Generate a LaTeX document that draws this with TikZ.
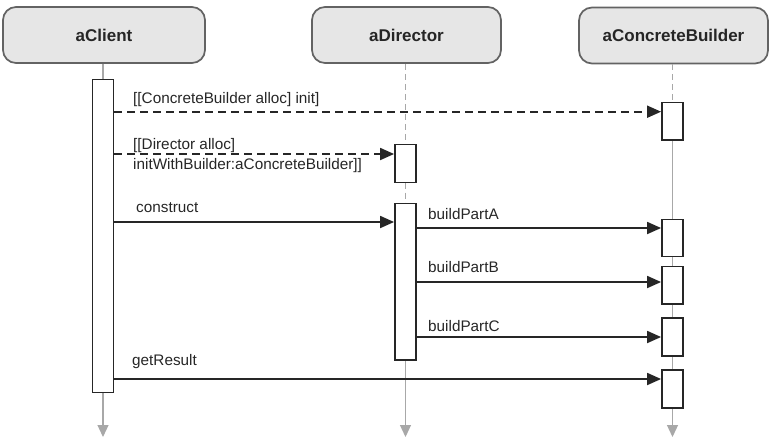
\documentclass[tikz,border=0pt]{standalone}
\usepackage{fontspec}
\setmainfont{Liberation Sans}
\usetikzlibrary{arrows.meta}
\definecolor{hdrfill}{HTML}{E6E6E6}
\definecolor{hdrline}{HTML}{636363}
\definecolor{ink}{HTML}{262626}
\definecolor{life}{HTML}{A8A8A8}
\begin{document}
\begin{tikzpicture}[x=1pt,y=-1pt,
 header/.style={draw=hdrline, fill=hdrfill, line width=1.7pt, rounded corners=13pt, minimum height=56pt, font=\fontsize{17}{20}\selectfont\bfseries, text=ink, inner sep=0pt},
 act/.style={draw=ink, fill=white, line width=1.8pt, minimum width=21pt, inner sep=0pt},
 ghost/.style={minimum width=21pt, inner sep=0pt},
 msg/.style={draw=ink, line width=1.8pt, -{Triangle[length=14pt,width=12pt]}},
 ret/.style={msg, dash pattern=on 8pt off 5pt},
 lbl/.style={font=\fontsize{15.3}{20}\selectfont, text=ink, anchor=west, inner sep=0pt, align=left},
 lifedash/.style={draw=life, line width=1.2pt, dash pattern=on 6pt off 4pt},
 lifesolid/.style={draw=life, line width=1.2pt},
 lifeend/.style={draw=life, line width=1.2pt, -{Triangle[length=12pt,width=11pt]}},
]
\useasboundingbox (0,0) rectangle (774,440);

% headers
\node[header, minimum width=202pt] (hc) at (104,35) {aClient};
\node[header, minimum width=189pt] (hd) at (406.5,35) {aDirector};
\node[header, minimum width=189pt] (hb) at (673.5,35.5) {aConcreteBuilder};

% lifeline end points
\coordinate (ce) at (103,437);
\coordinate (de) at (405.5,437);
\coordinate (be) at (672.5,437);

% invisible placeholders for lifeline segments
\node[ghost, minimum height=313pt] (ca0) at (103,236) {};
\node[ghost, minimum height=38pt] (da10) at (405.5,163.5) {};
\node[ghost, minimum height=156.5pt] (da20) at (405.5,281.75) {};
\node[ghost, minimum height=37.5pt] (b10) at (672.5,121.25) {};

% lifelines
\draw[lifesolid] (ca0.north |- hc.south) -- (ca0.north);
\draw[lifeend] (ca0.south) -- (ce);
\draw[lifedash] (da10.north |- hd.south) -- (da10.north);
\draw[lifedash] (da10.south) -- (da20.north);
\draw[lifeend] (da20.south) -- (de);
\draw[lifedash] (b10.north |- hb.south) -- (b10.north);
\draw[lifeend] (b10.south) -- (be);

% activation boxes
\node[act, minimum height=313pt] (ca) at (103,236) {};
\node[act, minimum height=38pt] (da1) at (405.5,163.5) {};
\node[act, minimum height=156.5pt] (da2) at (405.5,281.75) {};
\node[act, minimum height=37.5pt] (b1) at (672.5,121.25) {};
\node[act, minimum height=37pt] (b2) at (672.5,238) {};
\node[act, minimum height=37.5pt] (b3) at (672.5,285.25) {};
\node[act, minimum height=37.5pt] (b4) at (672.5,337.1) {};
\node[act, minimum height=37.5pt] (b5) at (672.5,388.85) {};

% message heights
\coordinate (y1) at (0,111.7);
\coordinate (y2) at (0,154);
\coordinate (y3) at (0,222);
\coordinate (y4) at (0,228);
\coordinate (y5) at (0,282);
\coordinate (y6) at (0,337);
\coordinate (y7) at (0,379);

% messages
\draw[ret] (ca.east |- y1) -- (b1.west |- y1);
\draw[ret] (ca.east |- y2) -- (da1.west |- y2);
\draw[msg] (ca.east |- y3) -- (da2.west |- y3);
\draw[msg] (da2.east |- y4) -- (b2.west |- y4);
\draw[msg] (da2.east |- y5) -- (b3.west |- y5);
\draw[msg] (da2.east |- y6) -- (b4.west |- y6);
\draw[msg] (ca.east |- y7) -- (b5.west |- y7);

% labels
\node[lbl] (l1) at (133,100) {[[ConcreteBuilder alloc] init]};
\node[lbl] (l2) at (133,156) {[[Director alloc]\\initWithBuilder:aConcreteBuilder]]};
\node[lbl] (l3) at (136,208) {construct};
\node[lbl] (l4) at (428,214) {buildPartA};
\node[lbl] (l5) at (428,267) {buildPartB};
\node[lbl] (l6) at (428,326) {buildPartC};
\node[lbl] (l7) at (132,362) {getResult};
\end{tikzpicture}
\end{document}
